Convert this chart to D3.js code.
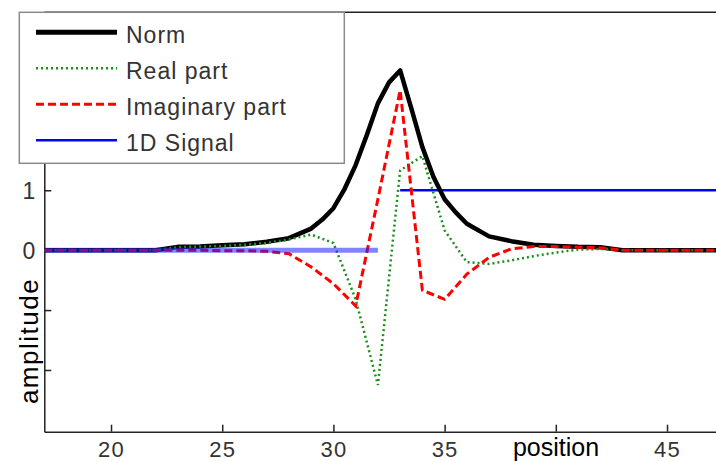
<!DOCTYPE html>
<html>
<head>
<meta charset="utf-8">
<script src="https://cdn.jsdelivr.net/npm/d3@7"></script>
<style>
  body { margin: 0; background: #fff; }
  svg { display: block; }
  text { font-family: "Liberation Sans", Arial, Helvetica, sans-serif; }
</style>
</head>
<body>
<svg id="chart" width="716" height="461"></svg>
<script>
// Sample positions shared by the real part, imaginary part and the 1D signal
const positions = [17, 18, 19, 20, 21, 22, 23, 24, 25, 26, 27, 28, 29, 30, 31, 32,
                   33, 34, 35, 36, 37, 38, 39, 40, 41, 42, 43, 44, 45, 46, 47, 48];
const realPart = [0, 0, 0, 0, 0, 0, 0.05, 0.06, 0.07, 0.09, 0.12, 0.18, 0.26, 0.12, -0.82, -2.25,
                  1.33, 1.57, 0.33, -0.2, -0.23, -0.17, -0.1, -0.04, 0.01, 0.02, 0, 0, 0, 0, 0, 0];
const imagPart = [0, 0, 0, 0, 0, 0, 0, 0, -0.01, -0.01, -0.02, -0.06, -0.28, -0.56, -0.93, 0.85,
                  2.67, -0.67, -0.82, -0.4, -0.12, 0.02, 0.06, 0.06, 0.05, 0.04, 0, 0, 0, 0, 0, 0];
const signal1D = [0, 0, 0, 0, 0, 0, 0, 0, 0, 0, 0, 0, 0, 0, 0, 0,
                  1, 1, 1, 1, 1, 1, 1, 1, 1, 1, 1, 1, 1, 1, 1, 1];

// The norm is sampled more finely around the peak
const normPositions = [17, 18, 19, 20, 21, 22, 23, 24, 25, 26, 27, 28, 28.5, 29, 29.5, 30, 30.5,
                       31, 31.5, 32, 32.5, 33, 33.5, 34, 34.5, 35, 35.5, 36, 37, 38, 39, 40,
                       41, 42, 43, 44, 45, 46, 47, 48];
const normValues = [0, 0, 0, 0, 0, 0, 0.055, 0.06, 0.08, 0.1, 0.14, 0.2, 0.28, 0.36, 0.51, 0.7, 1.02,
                    1.42, 1.92, 2.45, 2.8, 3.0, 2.37, 1.72, 1.22, 0.85, 0.63, 0.44, 0.23, 0.15, 0.09, 0.07,
                    0.055, 0.05, 0, 0, 0, 0, 0, 0];

const xTicks = [20, 25, 30, 35, 40, 45];
const xTickLabels = ["20", "25", "30", "35", "", "45"];
const yTicks = [-2, -1, 0, 1, 2, 3];
const yTickLabels = ["", "", "0", "1", "", ""];
const legendLabels = ["Norm", "Real part", "Imaginary part", "1D Signal"];
const xAxisTitle = "position";
const yAxisTitle = "amplitude";

const svg = d3.select("#chart");
const plotLeft = 44.3, plotTop = 12.3, plotBottom = 431.7, plotRight = 716;

const x = d3.scaleLinear().domain([17, 48]).range([plotLeft, plotLeft + 31 * 22.24]);
const y = d3.scaleLinear().domain([-3.03, 3.97]).range([plotBottom, plotTop]);

svg.append("defs").append("clipPath").attr("id", "plotClip")
  .append("rect").attr("x", plotLeft).attr("y", plotTop)
  .attr("width", plotRight - plotLeft + 20).attr("height", plotBottom - plotTop);

// Axes with inward ticks
const axisColor = "#222";
const gx = svg.append("g").attr("transform", `translate(0,${plotBottom})`)
  .call(d3.axisBottom(x).tickValues(xTicks).tickSizeInner(-7).tickSizeOuter(0)
    .tickFormat((d, i) => xTickLabels[i]));
gx.select(".domain").attr("stroke", axisColor).attr("stroke-width", 1.5);
gx.selectAll(".tick line").attr("stroke", axisColor).attr("stroke-width", 1.5);
gx.selectAll(".tick text").attr("y", 25.5).attr("dy", 0)
  .attr("font-size", 22).attr("letter-spacing", 1.2).attr("fill", "#333");

const gy = svg.append("g").attr("transform", `translate(${plotLeft},0)`)
  .call(d3.axisLeft(y).tickValues(yTicks).tickSizeInner(-7).tickSizeOuter(0)
    .tickFormat((d, i) => yTickLabels[i]));
gy.select(".domain").attr("stroke", axisColor).attr("stroke-width", 1.5);
gy.selectAll(".tick line").attr("stroke", axisColor).attr("stroke-width", 1.5);
gy.selectAll(".tick text").attr("x", -9).attr("dy", "0.36em")
  .attr("font-size", 23).attr("fill", "#333");

// Upper frame line
svg.append("line").attr("x1", plotLeft).attr("x2", plotRight).attr("y1", plotTop).attr("y2", plotTop)
  .attr("stroke", axisColor).attr("stroke-width", 1.5);

const plot = svg.append("g").attr("clip-path", "url(#plotClip)");
const line = d3.line().x(d => x(d[0])).y(d => y(d[1]));

// Split the 1D signal into its constant runs
const runs = [];
positions.forEach((p, i) => {
  const v = signal1D[i];
  if (!runs.length || runs[runs.length - 1].level !== v) runs.push({ level: v, pts: [] });
  runs[runs.length - 1].pts.push([p, v]);
});
const highRuns = runs.filter(r => r.level !== 0);
const lowRuns = runs.filter(r => r.level === 0);

plot.selectAll(".sig-high").data(highRuns).join("path").attr("class", "sig-high")
  .attr("d", r => line(r.pts)).attr("fill", "none")
  .attr("stroke", "#0000ff").attr("stroke-width", 2.5);

plot.append("path").datum(normPositions.map((p, i) => [p, normValues[i]]))
  .attr("d", line).attr("fill", "none").attr("stroke", "#000")
  .attr("stroke-width", 4.5).attr("stroke-linejoin", "round");

plot.append("path").datum(positions.map((p, i) => [p, realPart[i]]))
  .attr("d", line).attr("fill", "none").attr("stroke", "#1b8f1b")
  .attr("stroke-width", 2.5).attr("stroke-dasharray", "2,3");

plot.append("path").datum(positions.map((p, i) => [p, imagPart[i]]))
  .attr("d", line).attr("fill", "none").attr("stroke", "#ff0000")
  .attr("stroke-width", 3).attr("stroke-dasharray", "8,4");

plot.selectAll(".sig-low").data(lowRuns).join("path").attr("class", "sig-low")
  .attr("d", r => line(r.pts)).attr("fill", "none")
  .attr("stroke", "rgba(30,30,255,0.55)").attr("stroke-width", 5);

// Axis titles
svg.append("text").attr("x", 556).attr("y", 456).attr("text-anchor", "middle")
  .attr("font-size", 25).attr("fill", "#000").text(xAxisTitle);
svg.append("text").attr("transform", "translate(38,341) rotate(-90)")
  .attr("text-anchor", "middle").attr("font-size", 26).attr("letter-spacing", 1.5)
  .attr("fill", "#000").text(yAxisTitle);

// Legend
const legendStyles = [
  { stroke: "#000", width: 5, dash: null },
  { stroke: "#1b8f1b", width: 2.5, dash: "2,3" },
  { stroke: "#ff0000", width: 3, dash: "8,4" },
  { stroke: "#0000ff", width: 2.5, dash: null }
];
const lg = svg.append("g");
lg.append("rect").attr("x", 19.3).attr("y", 12.3).attr("width", 325).attr("height", 151)
  .attr("fill", "#fff").attr("stroke", "#8a8a8a").attr("stroke-width", 1.5);
const items = lg.selectAll(".item").data(legendLabels).join("g")
  .attr("transform", (d, i) => `translate(0,${32.3 + i * 36})`);
items.append("line").attr("x1", 36).attr("x2", 117)
  .attr("stroke", (d, i) => legendStyles[i].stroke)
  .attr("stroke-width", (d, i) => legendStyles[i].width)
  .attr("stroke-dasharray", (d, i) => legendStyles[i].dash);
items.append("text").attr("x", 126).attr("y", 11).attr("font-size", 23)
  .attr("letter-spacing", 1).attr("fill", "#333").text(d => d);
</script>
</body>
</html>
